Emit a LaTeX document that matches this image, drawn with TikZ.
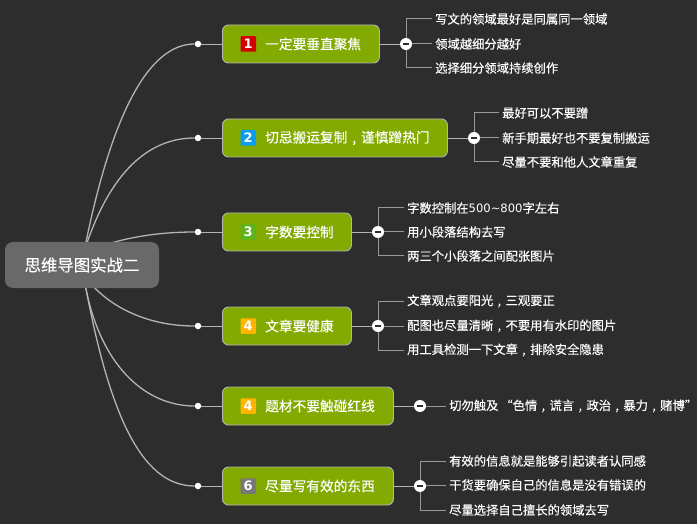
\documentclass[tikz,border=0pt]{standalone}
\usepackage{fontspec}
\setmainfont[FakeBold=0.25]{Noto Sans CJK SC}
\newfontfamily\iconfont{DejaVu Sans Bold}
\newfontfamily\digitfont[Scale=0.94]{DejaVu Sans}
\newcommand{\zc}{\makebox[1em][c]{,}}
\usetikzlibrary{backgrounds}
\definecolor{bgc}{HTML}{2D2D2D}
\definecolor{boxg}{HTML}{82AA00}
\definecolor{rootc}{HTML}{696969}
\definecolor{linec}{HTML}{B4B4B4}
\definecolor{icred}{HTML}{D40000}
\definecolor{icblue}{HTML}{0A9BF5}
\definecolor{icgreen}{HTML}{5FB41E}
\definecolor{icorange}{HTML}{FFB400}
\definecolor{icgray}{HTML}{787878}
\tikzset{
  x=1pt,y=-1pt,
  rootbox/.style={draw=none,fill=rootc,rounded corners=8pt,minimum width=154pt,minimum height=46pt,inner sep=0pt,text=white,font=\fontsize{16.4}{16.4}\selectfont},
  topic/.style={draw=linec,line width=0.9pt,fill=boxg,rounded corners=6pt,minimum height=38pt,inner sep=0pt,anchor=west,text=white},
  lab/.style={text=white,inner sep=0pt,anchor=west,font=\fontsize{13.7}{13.7}\selectfont},
  leaf/.style={text=white,inner sep=0pt,anchor=west,font=\fontsize{12.3}{12.3}\selectfont},
  icon/.style={minimum size=15.5pt,inner sep=0pt,anchor=west,rounded corners=0.8pt,text=white,font=\iconfont\fontsize{13}{13}\selectfont},
  dotn/.style={circle,fill=white,minimum size=6.5pt,inner sep=0pt},
  minusn/.style={circle,fill=white,minimum size=12pt,inner sep=0pt},
  curve/.style={draw=linec,line width=1.3pt},
  link/.style={draw=linec,line width=0.9pt},
  branch/.style={draw=linec!80!bgc,line width=1pt},
  bar/.style={draw=bgc,line width=1.6pt}
}
\newcommand{\topicrow}[7]{%
 \node[dotn] (d#1) at (198,#2) {};
 \node[topic,minimum width=#3pt] (t#1) at (222,#2) {};
 \node[icon,fill=#4] (i#1) at (240.3,#2) {#5};
 \node[lab] (l#1) at (265,#2) {#6};
 \node[minusn] (m#1) at (#7,#2) {};
 \draw[bar] ([xshift=-3.2pt]m#1.center) -- ([xshift=3.2pt]m#1.center);
 \begin{scope}[on background layer]
  \draw[link] (d#1) -- (t#1);
  \draw[link] (t#1) -- (m#1);
 \end{scope}
}
\newcommand{\leafrow}[5]{%
 \node[leaf] (#1) at (#3,#4) {#5};
 \begin{scope}[on background layer]
  \draw[branch] (m#2.center) |- ([xshift=-3pt]#1.west);
 \end{scope}
}
\begin{document}
\begin{tikzpicture}
\useasboundingbox (0,0) rectangle (697,524);
\begin{scope}[on background layer]
\fill[bgc] (0,0) rectangle (697,524);
\end{scope}
\node[rootbox] (root) at (82,265) {思维导图实战二};
\topicrow{1}{44}{157}{icred}{1}{一定要垂直聚焦}{406}
\topicrow{2}{138}{225}{icblue}{2}{切忌搬运复制\zc 谨慎蹭热门}{474}
\topicrow{3}{232}{129}{icgreen}{3}{字数要控制}{378}
\topicrow{4}{326}{129}{icorange}{4}{文章要健康}{378}
\topicrow{5}{406}{171}{icorange}{4}{题材不要触碰红线}{420}
\topicrow{6}{486}{171}{icgray}{6}{尽量写有效的东西}{420}
\leafrow{a1}{1}{435}{19}{写文的领域最好是同属同一领域}
\leafrow{a2}{1}{435}{44}{领域越细分越好}
\leafrow{a3}{1}{435}{68}{选择细分领域持续创作}
\leafrow{b1}{2}{502}{113}{最好可以不要蹭}
\leafrow{b2}{2}{502}{138}{新手期最好也不要复制搬运}
\leafrow{b3}{2}{502}{162}{尽量不要和他人文章重复}
\leafrow{c1}{3}{407}{208}{字数控制在{\digitfont 500\textasciitilde 800}字左右}
\leafrow{c2}{3}{407}{232}{用小段落结构去写}
\leafrow{c3}{3}{407}{256}{两三个小段落之间配张图片}
\leafrow{e1}{4}{407}{301}{文章观点要阳光\zc 三观要正}
\leafrow{e2}{4}{407}{326}{配图也尽量清晰\zc 不要用有水印的图片}
\leafrow{e3}{4}{407}{350}{用工具检测一下文章\zc 排除安全隐患}
\leafrow{f1}{5}{449}{406}{切勿触及\hspace{2pt}“色情\zc 谎言\zc 政治\zc 暴力\zc 赌博”}
\leafrow{g1}{6}{449}{461}{有效的信息就是能够引起读者认同感}
\leafrow{g2}{6}{449}{485}{干货要确保自己的信息是没有错误的}
\leafrow{g3}{6}{449}{510}{尽量选择自己擅长的领域去写}
\begin{scope}[on background layer]
 \draw[curve] ([xshift=2pt,yshift=13pt]root.center) .. controls (112,110) and (150,44) .. (d1);
 \draw[curve] ([xshift=2pt,yshift=13pt]root.center) .. controls (110,170) and (150,138) .. (d2);
 \draw[curve] ([xshift=2pt,yshift=13pt]root.center) .. controls (115,240) and (150,232) .. (d3);
 \draw[curve] ([xshift=2pt,yshift=-10pt]root.center) .. controls (105,305) and (145,326) .. (d4);
 \draw[curve] ([xshift=2pt,yshift=-13pt]root.center) .. controls (98,365) and (145,406) .. (d5);
 \draw[curve] ([xshift=2pt,yshift=-13pt]root.center) .. controls (108,410) and (140,486) .. (d6);
\end{scope}
\end{tikzpicture}
\end{document}
